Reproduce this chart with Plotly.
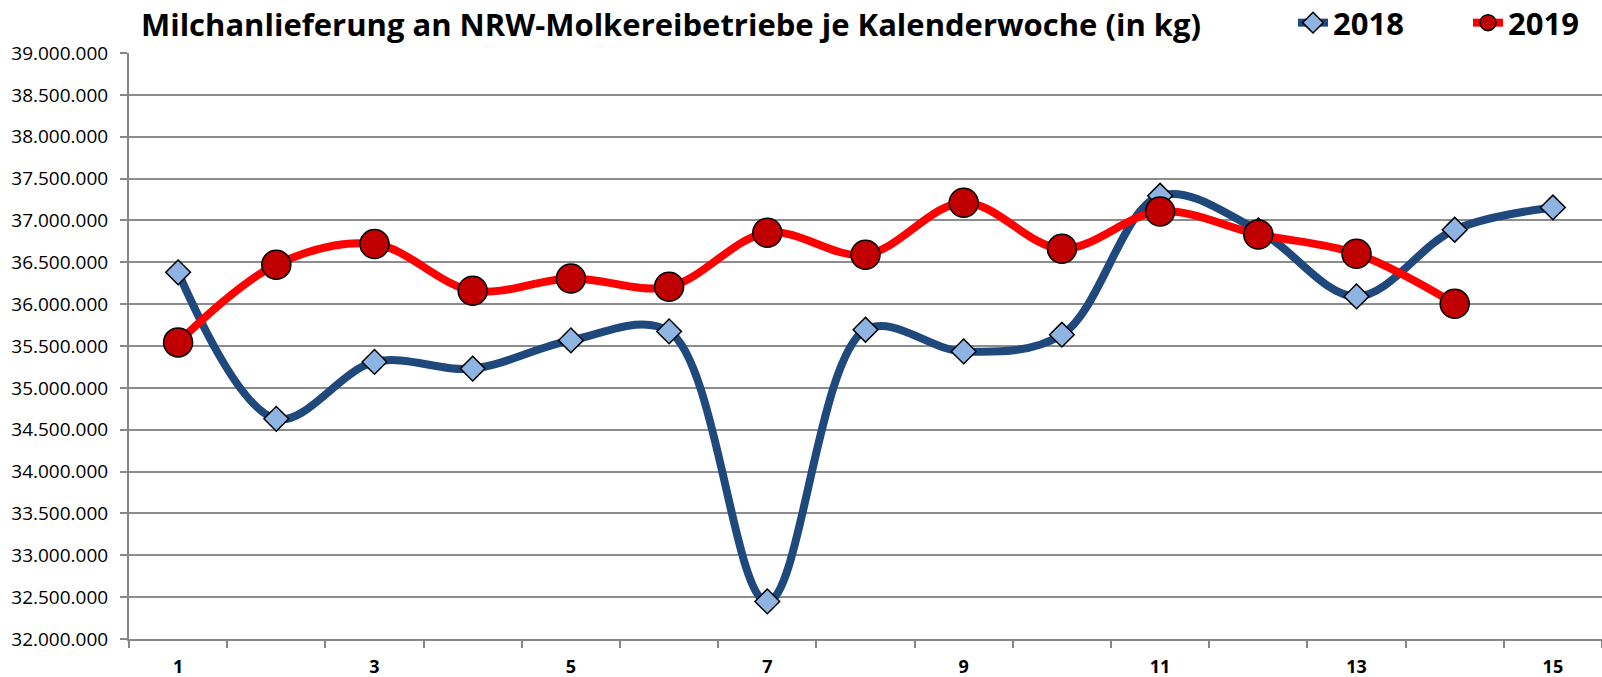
import plotly.graph_objects as go

weeks = [str(i) for i in range(1, 16)]
tick_text = [w if int(w) % 2 == 1 else "" for w in weeks]

values_2018 = [36380000, 34630000, 35310000, 35230000, 35567000, 35674000, 32449000,
               35694000, 35435000, 35635000, 37295000, 36880000, 36092000, 36889000, 37155000]
values_2019 = [35543000, 36471000, 36718000, 36160000, 36307000, 36208000, 36853000,
               36590000, 37212000, 36662000, 37107000, 36833000, 36602000, 36005000]

title_text = "Milchanlieferung an NRW-Molkereibetriebe je Kalenderwoche (in kg)"

fig = go.Figure()
fig.add_trace(go.Scatter(
    x=weeks, y=values_2018, name="<b>2018</b>", mode="lines+markers",
    line=dict(color="#1F497D", width=8, shape="spline", smoothing=1.0),
    marker=dict(symbol="diamond", size=19, color="#8EB4E3",
                line=dict(color="black", width=1.5)),
))
fig.add_trace(go.Scatter(
    x=weeks[:len(values_2019)], y=values_2019, name="<b>2019</b>", mode="lines+markers",
    line=dict(color="#FF0000", width=8, shape="spline", smoothing=1.0),
    marker=dict(symbol="circle", size=29, color="#C00000",
                line=dict(color="black", width=1.5)),
))

fig.update_layout(
    width=1602, height=677,
    margin=dict(l=129, r=0, t=53, b=38, autoexpand=False),
    paper_bgcolor="white", plot_bgcolor="white",
    separators=",.",
    showlegend=True,
    title=dict(text="<b>" + title_text + "</b>", xref="container", yref="container",
               x=671 / 1602, xanchor="center", y=1 - 25 / 677, yanchor="middle",
               font=dict(family="Open Sans", size=31, color="black")),
    legend=dict(orientation="h", xref="container", yref="container",
                x=1293 / 1602, xanchor="left", y=1 - 23 / 677, yanchor="middle",
                font=dict(family="Open Sans", size=31, color="black"),
                bgcolor="rgba(0,0,0,0)", entrywidth=130, itemsizing="trace"),
    font=dict(family="Open Sans", color="black"),
)

fig.update_xaxes(
    type="category", categoryorder="array", categoryarray=weeks,
    range=[-0.5, 14.5],
    tickmode="array", tickvals=weeks, ticktext=["<b>" + t + "</b>" if t else "" for t in tick_text],
    tickson="boundaries", ticks="outside", ticklen=7, tickwidth=2, tickcolor="#868686",
    showline=True, linecolor="#868686", linewidth=2,
    showgrid=False, zeroline=False, automargin=False,
    tickfont=dict(family="Open Sans", size=18, color="black"),
    ticklabelstandoff=10,
)
fig.update_yaxes(
    range=[32000000, 39000000], tickmode="linear", tick0=32000000, dtick=500000,
    tickformat=",d",
    ticks="outside", ticklen=7, tickwidth=2, tickcolor="#868686",
    showline=True, linecolor="#868686", linewidth=2,
    showgrid=True, gridcolor="#8C8C8C", gridwidth=2,
    zeroline=False, automargin=False,
    tickfont=dict(family="Open Sans", size=19, color="black"),
    ticklabelstandoff=8,
)

fig.write_html("out.html", config={"displayModeBar": False},
               post_script="document.body.style.margin='0px';document.body.style.overflow='hidden';")
